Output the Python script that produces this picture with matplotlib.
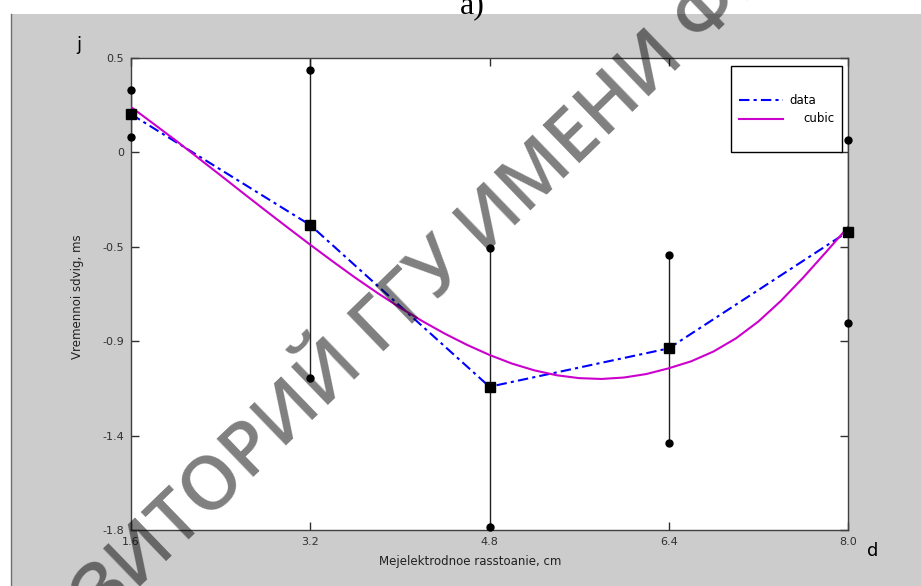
import matplotlib
matplotlib.use("Agg")
import matplotlib.pyplot as plt
from matplotlib.patches import Rectangle
from matplotlib.lines import Line2D

# measured points (distance, cm -> time shift, ms)
dist = [1.6, 3.2, 4.8, 6.4, 8.0]
shift = [0.226, -0.314, -1.102, -0.915, -0.346]
shift_hi = [0.343, 0.440, -0.427, -0.460, 0.100]
shift_lo = [0.117, -1.061, -1.784, -1.376, -0.790]
bar_top = [0.343, 0.5, -0.427, -0.460, 0.100]

# cubic fit curve
cubic_x = [1.6, 1.8, 2.0, 2.2, 2.4, 2.6, 2.8, 3.0, 3.2, 3.4, 3.6, 3.8, 4.0, 4.2, 4.4, 4.6, 4.8,
           5.0, 5.2, 5.4, 5.6, 5.8, 6.0, 6.2, 6.4, 6.6, 6.8, 7.0, 7.2, 7.4, 7.6, 7.8, 8.0]
cubic_y = [0.261, 0.180, 0.098, 0.013, -0.072, -0.158, -0.243, -0.327, -0.410, -0.491,
           -0.570, -0.645, -0.716, -0.782, -0.843, -0.898, -0.947, -0.989, -1.022, -1.046,
           -1.060, -1.064, -1.057, -1.040, -1.012, -0.978, -0.930, -0.866, -0.784, -0.684,
           -0.570, -0.448, -0.324]

xticks = [1.6, 3.2, 4.8, 6.4, 8.0]
xtick_labels = ["1.6", "3.2", "4.8", "6.4", "8.0"]
ytick_labels = ["-1.8", "-1.4", "-0.9", "-0.5", "0", "0.5"]

W, H = 921, 586


def fx(px):
    return px / W


def fy(py):
    return 1 - py / H


fig = plt.figure(figsize=(W / 100, H / 100), dpi=100)
fig.patch.set_facecolor("white")
fig.patches.append(Rectangle((fx(11), 0), 1 - fx(11), fy(14), transform=fig.transFigure,
                             facecolor="#cccccc", edgecolor="none", zorder=-10))
fig.lines.append(Line2D([fx(11), fx(11)], [0, fy(14)], transform=fig.transFigure,
                        color="#707070", lw=1))

ax = fig.add_axes([fx(131), 56 / H, 717 / W, 472 / H])
ax.set_facecolor("white")

ymin, ymax = -1.8, 0.5
step = (ymax - ymin) / 5
yticks = [ymin + i * step for i in range(6)]

# error bars
ax.vlines(dist, shift_lo, bar_top, colors="#202020", lw=1, zorder=2)
ax.plot(dist, shift_hi, "o", color="black", ms=5, ls="none", clip_on=False, zorder=4)
ax.plot(dist, shift_lo, "o", color="black", ms=5, ls="none", clip_on=False, zorder=4)

ax.plot(dist, shift, color="blue", lw=1.5, ls=(0, (5, 2, 1.5, 2)), zorder=3)
ax.plot(cubic_x, cubic_y, color="#cc00cc", lw=1.5, zorder=3)
ax.plot(dist, shift, "s", color="black", ms=7, ls="none", clip_on=False, zorder=5)

ax.set_xlim(1.6, 8.0)
ax.set_ylim(ymin, ymax)
ax.set_xticks(xticks)
ax.set_xticklabels(xtick_labels)
ax.set_yticks(yticks)
ax.set_yticklabels(ytick_labels)
ax.tick_params(direction="in", length=6, width=1, top=True, right=True,
               labelsize=8, colors="#303030", pad=5)
for s in ax.spines.values():
    s.set_color("#404040")
    s.set_linewidth(1)

fig.text(fx(470), fy(562), "Mejelektrodnoe rasstoanie, cm", fontsize=8.5,
         ha="center", va="center", color="#202020")
fig.text(fx(78), fy(297), "Vremennoi sdvig, ms", fontsize=8.5, rotation=90,
         ha="center", va="center", color="#202020")
fig.text(fx(79), fy(45), "j", fontsize=13, ha="center", va="center")
fig.text(fx(873), fy(551), "d", fontsize=13, ha="center", va="center")
fig.text(fx(472), fy(13), "a)", fontsize=23, family="Liberation Serif",
         ha="center", va="baseline")

# legend box drawn by hand to match the original layout
fig.patches.append(Rectangle((fx(731), fy(152)), fx(842) - fx(731), fy(66) - fy(152),
                             transform=fig.transFigure, facecolor="white",
                             edgecolor="black", lw=1, zorder=6))
fig.lines.append(Line2D([fx(739), fx(783)], [fy(100), fy(100)], transform=fig.transFigure,
                        color="blue", lw=1.5, ls=(0, (5, 2, 1.5, 2)), zorder=7))
fig.lines.append(Line2D([fx(739), fx(783)], [fy(119), fy(119)], transform=fig.transFigure,
                        color="#cc00cc", lw=1.5, zorder=7))
fig.text(fx(789), fy(100), "data", fontsize=8.5, va="center", ha="left", zorder=7)
fig.text(fx(803), fy(119), "cubic", fontsize=8.5, va="center", ha="left", zorder=7)

# repository watermark, two pieces sharing one baseline
wm = dict(fontsize=53, family=["Open Sans", "DejaVu Sans"], fontweight="semibold", rotation=44,
          rotation_mode="anchor", va="baseline", color="black", alpha=0.5, zorder=20)
fig.text(fx(470), fy(268), "РЕПОЗИТОРИЙ ГГУ", ha="right", **wm)
fig.text(fx(484), fy(255), "ИМЕНИ Ф. СКОРИНЫ", ha="left", **wm)

fig.savefig("out.png", dpi=100)
